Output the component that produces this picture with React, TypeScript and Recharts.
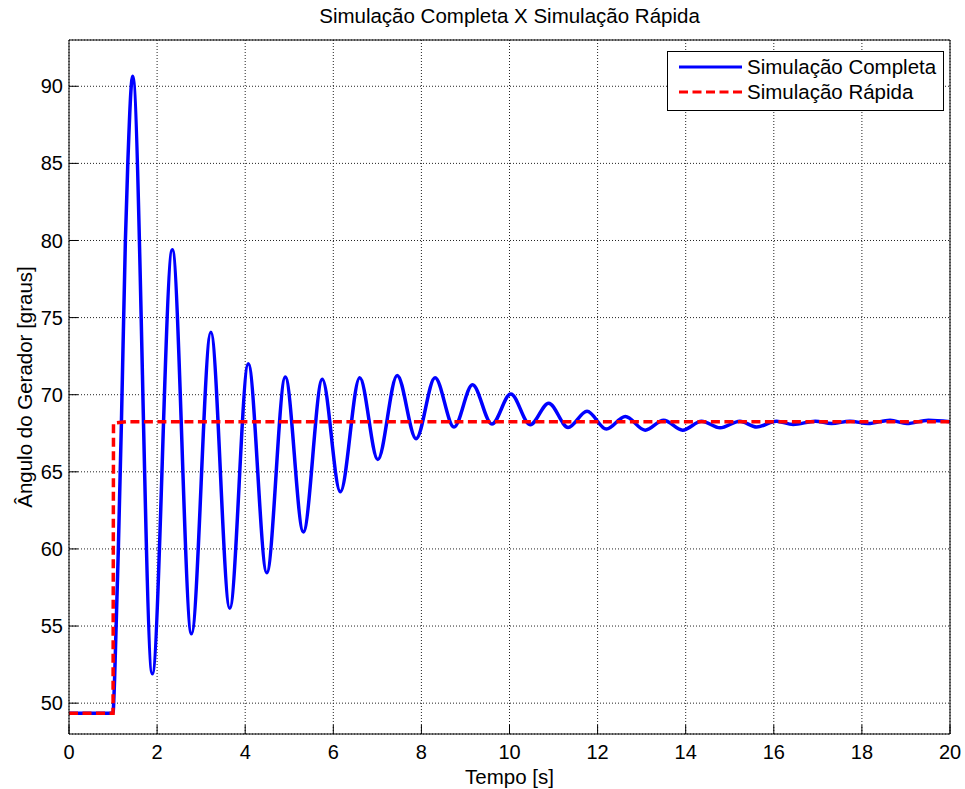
import React from 'react';
import { LineChart, Line, XAxis, YAxis, CartesianGrid, Legend, Label } from 'recharts';

const FONT = '"Liberation Sans", Arial, Helvetica, sans-serif';

const tituloGrafico = 'Simulação Completa X Simulação Rápida';
const rotuloX = 'Tempo [s]';
const rotuloY = 'Ângulo do Gerador [graus]';
const nomeCompleta = 'Simulação Completa';
const nomeRapida = 'Simulação Rápida';

const tempoCompleta = [
  0, 1.0, 1.02, 1.07, 1.12, 1.19, 1.28, 1.335, 1.445, 1.89, 2.345, 2.78, 3.22, 3.65, 4.07, 4.49,
  4.91, 5.32, 5.75, 6.16, 6.6, 7.01, 7.45, 7.88, 8.31, 8.74, 9.16, 9.6, 10.03, 10.47,
  10.89, 11.33, 11.76, 12.2, 12.63, 13.08, 13.5, 13.93, 14.36, 14.78, 15.23, 15.61,
  16.06, 16.44, 16.94, 17.31, 17.73, 18.14, 18.64, 19.02, 19.51, 20,
];
const anguloCompleta = [
  49.35, 49.35, 50.4, 55, 60, 68.2, 80, 85, 90.65, 51.9, 79.4, 54.5, 74.05, 56.15, 72.0, 58.45,
  71.15, 61.1, 71.0, 63.7, 71.1, 65.8, 71.25, 67.15, 71.1, 67.9, 70.65, 68.1, 70.05, 68.05,
  69.45, 67.88, 68.93, 67.77, 68.58, 67.7, 68.35, 67.7, 68.28, 67.85, 68.28, 67.9,
  68.28, 68.07, 68.28, 68.13, 68.28, 68.13, 68.35, 68.13, 68.35, 68.25,
];

const tempoRapida = [0, 1.0, 1.01, 1.3, 20];
const anguloRapida = [49.35, 49.35, 68.15, 68.25, 68.24];

const xTicks = [0, 2, 4, 6, 8, 10, 12, 14, 16, 18, 20];
const yTicks = [50, 55, 60, 65, 70, 75, 80, 85, 90];
const xDomain = [0, 20];
const yDomain = [48, 93];

const dadosCompleta = tempoCompleta.map((t, i) => ({ t, v: anguloCompleta[i] }));
const dadosRapida = tempoRapida.map((t, i) => ({ t, v: anguloRapida[i] }));

const LegendBox = () => (
  <svg width={277} height={60} style={{ display: 'block' }}>
    <rect x={0.5} y={0.5} width={276} height={59} fill="#fff" stroke="#000" strokeWidth={1} />
    <line x1={12} x2={75} y1={16} y2={16} stroke="#0000ff" strokeWidth={3} />
    <line x1={12} x2={75} y1={41} y2={41} stroke="#ff0000" strokeWidth={3} strokeDasharray="9 4.5" />
    <text x={80} y={23} fontFamily={FONT} fontSize={20.5} fill="#000">{nomeCompleta}</text>
    <text x={80} y={48} fontFamily={FONT} fontSize={20.5} fill="#000">{nomeRapida}</text>
  </svg>
);

export default function App() {
  return (
    <div style={{ position: 'absolute', left: 0, top: 0, width: 965, height: 789, background: '#fff' }}>
      <div
        style={{
          position: 'absolute', left: 0, top: 4, width: 1019, textAlign: 'center',
          fontFamily: FONT, fontSize: 20.5, lineHeight: '24px', color: '#000',
        }}
      >
        {tituloGrafico}
      </div>
      <LineChart
        width={965}
        height={789}
        margin={{ top: 39, right: 14, left: 0, bottom: 0 }}
      >
        <CartesianGrid stroke="#222" strokeDasharray="1 2" strokeWidth={1} />
        <XAxis
          dataKey="t"
          type="number"
          domain={xDomain}
          ticks={xTicks}
          allowDataOverflow
          height={55}
          axisLine={{ stroke: '#000', strokeWidth: 1 }}
          tickLine={{ stroke: '#000', strokeWidth: 1 }}
          tickSize={-9}
          tickMargin={20}
          tick={{ fill: '#000', fontSize: 20, fontFamily: FONT }}
        >
          <Label
            content={(props: any) => {
              const vb = props.viewBox || { x: 69, y: 734, width: 881 };
              return (
                <text x={vb.x + vb.width / 2} y={vb.y + 50} textAnchor="middle" fontFamily={FONT} fontSize={20.5} fill="#000">
                  {rotuloX}
                </text>
              );
            }}
          />
        </XAxis>
        <XAxis
          xAxisId="top"
          orientation="top"
          type="number"
          domain={xDomain}
          ticks={xTicks}
          allowDataOverflow
          height={1}
          axisLine={{ stroke: '#000', strokeWidth: 1 }}
          tickLine={{ stroke: '#000', strokeWidth: 1 }}
          tickSize={-9}
          tick={false}
        />
        <YAxis
          type="number"
          domain={yDomain}
          ticks={yTicks}
          allowDataOverflow
          width={69}
          axisLine={{ stroke: '#000', strokeWidth: 1 }}
          tickLine={{ stroke: '#000', strokeWidth: 1 }}
          tickSize={-9}
          tickMargin={15}
          tick={{ fill: '#000', fontSize: 20, fontFamily: FONT }}
        >
          <Label
            content={(props: any) => {
              const vb = props.viewBox || { x: 0, y: 40, width: 69, height: 694 };
              const cx = 32;
              const cy = vb.y + vb.height / 2;
              return (
                <text x={cx} y={cy} transform={`rotate(-90, ${cx}, ${cy})`} textAnchor="middle" fontFamily={FONT} fontSize={20.5} fill="#000">
                  {rotuloY}
                </text>
              );
            }}
          />
        </YAxis>
        <YAxis
          yAxisId="right"
          orientation="right"
          type="number"
          domain={yDomain}
          ticks={yTicks}
          allowDataOverflow
          width={1}
          axisLine={{ stroke: '#000', strokeWidth: 1 }}
          tickLine={{ stroke: '#000', strokeWidth: 1 }}
          tickSize={-9}
          tick={false}
        />
        <Legend
          layout="vertical"
          align="center"
          verticalAlign="middle"
          content={() => <LegendBox />}
          wrapperStyle={{ position: 'absolute', left: 667, top: 51, width: 277, height: 60, margin: 0 }}
        />
        <Line
          data={dadosCompleta}
          dataKey="v"
          name={nomeCompleta}
          type="monotone"
          stroke="#0000ff"
          strokeWidth={3.5}
          dot={false}
          activeDot={false}
          isAnimationActive={false}
        />
        <Line
          data={dadosRapida}
          dataKey="v"
          name={nomeRapida}
          type="linear"
          stroke="#ff0000"
          strokeWidth={3.5}
          strokeDasharray="9 4.5"
          dot={false}
          activeDot={false}
          isAnimationActive={false}
        />
      </LineChart>
    </div>
  );
}
